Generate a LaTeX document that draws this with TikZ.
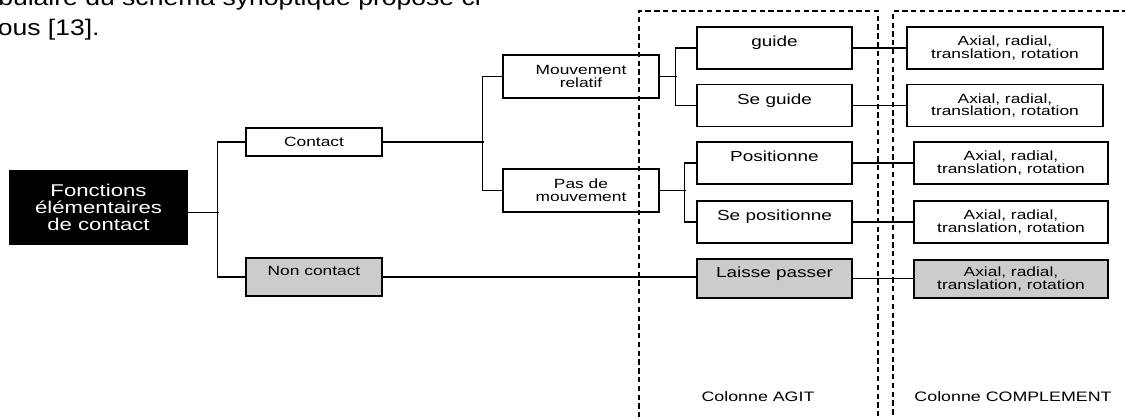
\documentclass[tikz,border=0pt]{standalone}
\usepackage{fontspec}
\setmainfont[FakeStretch=1.3]{Liberation Sans}
\newfontfamily\pagefont[FakeStretch=1.18]{Liberation Sans}
\definecolor{shade}{gray}{0.8}
\tikzset{
    box/.style={draw, line width=0.8pt, inner sep=1pt, align=center,
                font=\fontsize{7.6}{7.3}\selectfont},
    relbox/.style={box, minimum width=3.12cm, minimum height=0.86cm},
    agitbox/.style={box, minimum width=3.1cm, minimum height=0.84cm,
                    font=\fontsize{8.3}{8}\selectfont},
    compbox/.style={box, minimum height=0.84cm},
    lifted/.style={text height=0.2cm, text depth=0.25cm},
    off/.style={fill=shade},
    link/.style={line width=0.6pt},
    column/.style={draw, dash pattern=on 3pt off 2pt, line width=1.1pt,
                   inner sep=0pt, anchor=north west},
    note/.style={font=\fontsize{7.8}{8}\selectfont},
    pagetext/.style={anchor=base east, inner sep=0pt,
                     font=\pagefont\fontsize{12.8}{14}\selectfont},
}

\begin{document}
\begin{tikzpicture}
    \clip (0,0) rectangle (22.5,-8.34);

    \node[pagetext] (introtop) at (9.80,-0.11) {vocabulaire du schéma synoptique proposé ci-};
    \node[pagetext] (introbottom) at (2.0,-0.70) {dessous [13].};

    \node[box, fill=black, text=white, minimum width=3.54cm, minimum height=1.46cm,
          font=\fontsize{9.7}{9.9}\selectfont] (fonctions) at (1.97,-4.15)
          {Fonctions\\élémentaires\\de contact};

    \node[box, minimum width=2.72cm, minimum height=0.56cm] (contact) at (6.28,-2.84) {Contact};
    \node[box, off, lifted, minimum width=2.72cm, minimum height=0.76cm] (noncontact) at (6.28,-5.54) {Non contact};

    \node[relbox] (relatif) at (11.62,-1.53) {Mouvement\\relatif};
    \node[relbox] (immobile) at (11.62,-3.81) {Pas de\\mouvement};

    \node[agitbox, lifted] (guide) at (15.49,-0.96) {guide};
    \node[agitbox, lifted] (seguide) at (15.49,-2.11) {Se guide};
    \node[agitbox, lifted] (positionne) at (15.49,-3.26) {Positionne};
    \node[agitbox, lifted] (sepositionne) at (15.49,-4.44) {Se positionne};
    \node[agitbox, lifted, off, minimum height=0.78cm] (laisse) at (15.49,-5.57) {Laisse passer};

    \node[compbox, minimum width=3.92cm] (axialA) at (20.10,-0.96) {Axial, radial,\\translation, rotation};
    \node[compbox, minimum width=3.92cm] (axialB) at (20.10,-2.11) {Axial, radial,\\translation, rotation};
    \node[compbox, minimum width=3.88cm] (axialC) at (20.22,-3.26) {Axial, radial,\\translation, rotation};
    \node[compbox, minimum width=3.88cm] (axialD) at (20.22,-4.44) {Axial, radial,\\translation, rotation};
    \node[compbox, off, minimum width=3.88cm, minimum height=0.76cm] (axialE) at (20.22,-5.58) {Axial, radial,\\translation, rotation};

    \draw[link] ([yshift=-1mm]fonctions.east) -- ++(0.62,0);
    \draw[link] (contact.west) -- ++(-0.56,0) |- (noncontact.west);
    \draw[link] (contact.east) -- ++(2.02,0);
    \draw[link] (relatif.west) -- ++(-0.40,0) |- (immobile.west);
    \draw[link] (relatif.east) -- ++(0.35,0);
    \draw[link] (guide.west) -- ++(-0.41,0) |- (seguide.west);
    \draw[link] (immobile.east) -- ++(0.52,0);
    \draw[link] (positionne.west) -- ++(-0.24,0) |- (sepositionne.west);
    \draw[link] (noncontact.east) -- (noncontact.east -| laisse.west);

    \draw[link] (guide) -- (axialA);
    \draw[link] (seguide) -- (axialB);
    \draw[link] (positionne) -- (axialC);
    \draw[link] (sepositionne) -- (axialD);
    \draw[link] (laisse.east) -- (laisse.east -| axialE.west);

    \node[column, minimum width=4.78cm, minimum height=8.6cm] (agit) at (12.76,-0.2) {};
    \node[column, minimum width=5.6cm, minimum height=8.6cm] (complement) at (17.84,-0.2) {};
    \node[note] (agitlabel) at (15.16,-7.94) {Colonne AGIT};
    \node[note] (complementlabel) at (20.26,-7.94) {Colonne COMPLEMENT};
\end{tikzpicture}
\end{document}
